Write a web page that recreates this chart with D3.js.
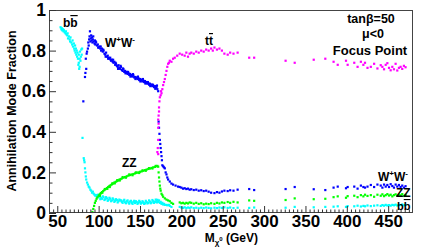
<!DOCTYPE html>
<html><head><meta charset="utf-8">
<script src="https://cdn.jsdelivr.net/npm/d3@7"></script>
<style>
body{margin:0;background:#fff}
svg{display:block}
text{font-family:"Liberation Sans",Arial,Helvetica,sans-serif;font-weight:bold;fill:#000}
</style>
</head><body>
<svg id="chart" width="423" height="249"></svg>
<script>
// ---- data: [neutralino mass (GeV), annihilation fraction] ----
const bbPoints = [
 [54,0.915],[55,0.905],[55.5,0.91],[56,0.9],[57,0.905],[57.5,0.895],[58,0.9],[59,0.89],[60,0.885],[60.5,0.895],
 [61,0.88],[62,0.875],[62.5,0.885],[63,0.86],[64,0.87],[65,0.855],[65.5,0.845],[66,0.865],[67,0.84],[68,0.83],
 [68.5,0.85],[69,0.82],[70,0.835],[70.5,0.81],[71,0.8],[71.5,0.825],[72,0.79],[72.5,0.81],[73,0.78],[73.5,0.8],
 [74,0.77],[74.5,0.79],[75,0.76],[75.5,0.73],[76,0.78],[76,0.74],[76.5,0.71],[77,0.76],[77,0.72],[77.5,0.795],
 [78,0.75],[78.5,0.77],[79,0.805],[79.5,0.78],[80,0.81],
 [80.5,0.37],[82,0.27],[82.5,0.26],[83,0.25],[83.5,0.22],[84,0.2],[84.5,0.18],[85,0.165],[86,0.15],[87,0.14],
 [88,0.13],[89,0.125],[90,0.115],[91,0.11],[92,0.1],[93,0.105],[94,0.095],[95,0.09],[96,0.085],[97,0.088],
 [98,0.08],[100,0.078],[101,0.083],[103,0.075],[104,0.07],[106,0.077],[108,0.068],[110,0.072],[112,0.065],[114,0.07],
 [116,0.062],[118,0.066],[120,0.06],[122,0.064],[124,0.058],[126,0.062],[128,0.055],[130,0.06],[132,0.053],[134,0.058],
 [136,0.052],[138,0.056],[140,0.05],[142,0.055],[144,0.049],[146,0.054],[148,0.05],[150,0.055],[152,0.05],[154,0.053],
 [156,0.048],[158,0.054],[160,0.05],[162,0.056],[164,0.052],[166,0.058],[168,0.055],[170,0.06],[171,0.065],[172,0.055],
 [174,0.05],[176,0.045],[178,0.042],[180,0.04],[183,0.038],[186,0.035],[188,0.03],
 [99,0.09],[102,0.068],[105,0.082],[107,0.064],[109,0.078],[111,0.06],[113,0.075],[115,0.058],[117,0.072],[119,0.055],
 [121,0.068],[123,0.052],[125,0.066],[127,0.062],[129,0.05],[131,0.065],[133,0.048],[135,0.062],[137,0.046],[139,0.06],
 [141,0.045],[143,0.06],[145,0.058],[147,0.045],[149,0.06],[151,0.046],[153,0.058],[155,0.045],[157,0.06],[159,0.047],
 [161,0.062],[163,0.048],[165,0.064],[167,0.05],[169,0.066],[170.5,0.052],[173,0.062],[175,0.055],[177,0.05],[179,0.045],
 [182,0.04],[185,0.04],
 [198,0.03],[200,0.027],[202,0.025],[204,0.028],[206,0.024],[208,0.027],[210,0.025],[212,0.028],[215,0.024],[218,0.026],
 [221,0.023],[224,0.026],[227,0.024],[230,0.027],[233,0.025],[236,0.023],[240,0.026],[243,0.024],[246,0.027],[249,0.025],
 [252,0.028],[256,0.025],[259,0.027],[263,0.024],[268,0.026],[282,0.025],[288,0.027],[326,0.026],[337,0.03],[360,0.028],
 [374,0.03],[384,0.031],[389,0.033],[399,0.03],[401,0.034],[409,0.033],[413,0.036],[417,0.032],[420,0.035],[422,0.033],
 [425,0.037],[429,0.034],[433,0.036],[437,0.038],[441,0.035],[443,0.039],[445,0.036],[447,0.04],[449,0.037],[451,0.039],
 [453,0.036],[455,0.04],[457,0.038],[459,0.041],[461,0.037],[463,0.04],[465,0.039],[467,0.042],[469,0.038],[471,0.04]
];
const wwPoints = [
 [81.5,0.55],[83.5,0.67],[84,0.69],[85,0.71],[84.5,0.76],[85.5,0.785],[86,0.795],[87,0.81],[87.5,0.84],[88,0.825],
 [88.5,0.855],[89,0.87],[89.5,0.895],[90,0.845],[90.5,0.86],[91,0.875],[91.5,0.85],[92,0.865],[92.5,0.84],[93,0.855],
 [93.5,0.87],[94,0.845],[95,0.835],[95.5,0.85],[96,0.83],[97,0.84],[98,0.825],[99,0.83],[100,0.815],[101,0.82],
 [102,0.81],[103,0.8],[104,0.81],[105,0.795],[106,0.8],[107,0.785],[108,0.78],[109,0.79],[110,0.77],[111,0.775],
 [112,0.765],[113,0.76],[114,0.765],[115,0.75],[116,0.755],[117,0.745],[118,0.74],[119,0.745],[120,0.73],[121,0.735],
 [122,0.725],[123,0.72],[124,0.728],[125,0.715],[126,0.71],[127,0.72],[128,0.705],[129,0.7],[130,0.708],[131,0.695],
 [132,0.7],[133,0.69],[134,0.695],[135,0.685],[136,0.69],[137,0.68],[138,0.685],[139,0.675],[140,0.68],[141,0.672],
 [142,0.678],[143,0.668],[144,0.67],[145,0.665],[146,0.668],[147,0.66],[148,0.665],[149,0.655],[150,0.66],[151,0.652],
 [152,0.657],[153,0.648],[154,0.652],[155,0.645],[156,0.65],[157,0.64],[158,0.645],[159,0.637],[160,0.64],[161,0.632],
 [162,0.637],[163,0.628],[164,0.633],[165,0.625],[166,0.628],[167,0.62],[168,0.625],[169,0.615],[170,0.62],[171,0.61],
 [96.5,0.845],[99.5,0.815],[102.5,0.82],[105.5,0.805],[108.5,0.77],[111.5,0.76],[114.5,0.755],[117.5,0.755],[120.5,0.74],[123.5,0.71],
 [126.5,0.725],[129.5,0.712],[132.5,0.688],[135.5,0.695],[138.5,0.672],[141.5,0.684],[144.5,0.66],[147.5,0.672],[150.5,0.648],[153.5,0.66],
 [156.5,0.638],[159.5,0.645],[162.5,0.625],[165.5,0.632],[168.5,0.612],[170.5,0.628],
 [172,0.6],[172.5,0.45],[173,0.42],[173.5,0.39],[174,0.36],[174.5,0.34],[175,0.32],[175.5,0.3],[176,0.28],[176.5,0.26],
 [177,0.235],[178,0.23],[179,0.225],[180,0.22],[181,0.2],[182,0.19],[183,0.175],[184,0.165],[186,0.155],[188,0.145],
 [190,0.14],[193,0.135],[196,0.13],[198,0.128],[200,0.125],[202,0.12],[204,0.122],[206,0.118],[208,0.12],[210,0.115],
 [212,0.117],[215,0.113],[218,0.115],[221,0.11],[224,0.112],[227,0.108],[230,0.11],[233,0.105],[236,0.1],[240,0.098],
 [243,0.103],[246,0.1],[249,0.106],[252,0.11],[256,0.108],[259,0.112],[263,0.11],[268,0.115],[282,0.118],[288,0.113],
 [326,0.118],[337,0.128],[360,0.117],[374,0.113],[384,0.125],[389,0.13],[399,0.122],[401,0.128],[409,0.13],[413,0.12],
 [417,0.135],[420,0.128],[422,0.125],[425,0.13],[429,0.138],[433,0.128],[437,0.14],[441,0.135],[443,0.125],[445,0.14],
 [447,0.13],[449,0.138],[451,0.128],[453,0.142],[455,0.133],[457,0.125],[459,0.14],[461,0.13],[463,0.138],[465,0.128],
 [467,0.135],[469,0.125],[471,0.132]
];
const zzPoints = [
 [92.5,0.005],[93.5,0.02],[94.5,0.035],[95.5,0.05],[96.5,0.06],[97.5,0.07],[98.5,0.077],[100,0.085],[101,0.09],[102,0.095],
 [103,0.098],[104,0.103],[105.5,0.108],[107,0.113],[108.5,0.118],[110,0.123],[111.5,0.128],[113,0.133],[114.5,0.137],[116,0.141],
 [117.5,0.145],[119,0.15],[120.5,0.153],[122,0.157],[123.5,0.16],[125,0.164],[126.5,0.167],[128,0.17],[130,0.174],[132,0.177],
 [134,0.181],[136,0.184],[138,0.187],[140,0.19],[142,0.192],[144,0.195],[146,0.198],[148,0.2],[150,0.203],[152,0.205],
 [154,0.208],[156,0.211],[158,0.214],[160,0.217],[162,0.219],[164,0.222],[166,0.225],[168,0.227],[170,0.23],[171,0.232],
 [101.5,0.085],[104.5,0.1],[107.5,0.118],[110.5,0.119],[113.5,0.128],[116.5,0.146],[119.5,0.146],[122.5,0.162],[125.5,0.16],[129,0.177],
 [133,0.174],[137,0.19],[141,0.186],[145,0.2],[149,0.197],[153,0.21],[157,0.208],[161,0.221],[165,0.219],[169,0.232],
 [172,0.228],[172.5,0.2],[173,0.175],[173.5,0.155],[174,0.135],[174.5,0.12],[175,0.11],[176,0.095],[177,0.088],[178,0.08],
 [180,0.072],[182,0.066],[184,0.062],[186,0.058],[188,0.05],[190,0.045],
 [198,0.052],[200,0.048],[202,0.05],[204,0.046],[206,0.05],[208,0.047],[210,0.052],[212,0.05],[215,0.046],[218,0.05],
 [221,0.045],[224,0.048],[227,0.043],[230,0.046],[233,0.044],[236,0.048],[240,0.045],[243,0.05],[246,0.047],[249,0.052],
 [252,0.05],[256,0.054],[259,0.05],[263,0.055],[268,0.052],[282,0.062],[288,0.06],[326,0.064],[337,0.072],[360,0.068],
 [374,0.07],[384,0.078],[389,0.082],[399,0.075],[401,0.083],[409,0.085],[413,0.078],[417,0.088],[420,0.082],[422,0.09],
 [425,0.084],[429,0.088],[433,0.08],[437,0.09],[441,0.085],[443,0.092],[445,0.083],[447,0.088],[449,0.093],[451,0.086],
 [453,0.09],[455,0.082],[457,0.088],[459,0.092],[461,0.085],[463,0.09],[465,0.087],[467,0.093],[469,0.084],[471,0.089]
];
const ttPoints = [
 [171,0.30],[171.5,0.32],[172,0.29],[172,0.36],[172,0.42],[172.5,0.44],[172,0.46],[172.5,0.48],[173,0.5],[173,0.52],
 [173.5,0.55],[174,0.57],[175,0.58],[175.5,0.6],[176,0.59],[177,0.61],[178,0.63],[179,0.645],[180,0.66],[181,0.68],
 [182,0.7],[183,0.72],[184,0.735],[185,0.74],[186,0.75],[188,0.745],[190,0.76],[192,0.765],[195,0.775],[198,0.785],
 [201,0.78],[204,0.775],[206,0.79],[208,0.77],[210,0.785],[212,0.79],[215,0.785],[218,0.795],[221,0.79],[224,0.8],
 [227,0.795],[230,0.805],[233,0.8],[236,0.81],[238,0.8],[240,0.815],[243,0.805],[246,0.81],[249,0.8],[252,0.785],
 [256,0.78],[259,0.79],[263,0.785],[268,0.79],[282,0.765],[288,0.765],[326,0.75],[337,0.74],[360,0.755],[374,0.76],
 [384,0.745],[389,0.73],[399,0.75],[401,0.73],[409,0.74],[413,0.72],[417,0.745],[420,0.73],[422,0.74],[425,0.715],
 [429,0.72],[433,0.735],[437,0.712],[441,0.728],[443,0.72],[445,0.708],[447,0.73],[449,0.738],[451,0.715],[453,0.703],
 [455,0.72],[457,0.708],[459,0.735],[461,0.702],[463,0.715],[465,0.72],[467,0.71],[469,0.725],[471,0.718]
];
const seriesColors = {bb:"#00ffff", ww:"#0000ff", zz:"#00ff00", tt:"#ff00ff"};
const xMajorTicks = [50,100,150,200,250,300,350,400,450];
const yMajorTicks = [0,0.2,0.4,0.6,0.8,1];
const yTickLabels = ["0","0.2","0.4","0.6","0.8","1"];
const xDomain = [40,480];
const yDomain = [0,1];

// ---- drawing ----
const svg = d3.select("#chart");
const L=49, R=413, T=10, B=213;
const x = d3.scaleLinear().domain(xDomain).range([L,R]);
const y = d3.scaleLinear().domain(yDomain).range([B,T]);

// points
const groups = [[bbPoints,"bb"],[zzPoints,"zz"],[wwPoints,"ww"],[ttPoints,"tt"]];
groups.forEach(([pts,key])=>{
  svg.append("g").selectAll("rect").data(pts).join("rect")
    .attr("x",d=>x(d[0])-1.1).attr("y",d=>y(d[1])-1.1)
    .attr("width",2.2).attr("height",2.2)
    .attr("fill",seriesColors[key]);
});

// frame
svg.append("rect").attr("x",L+0.5).attr("y",T+0.5).attr("width",R-L-1).attr("height",B-T-1)
  .attr("fill","none").attr("stroke","#444").attr("stroke-width",1);

// x axis
const xMinor = d3.range(45,480,5).filter(v=>v%50!==0);
const gxMinor = svg.append("g").attr("transform",`translate(0,${B})`)
  .call(d3.axisBottom(x).tickValues(xMinor).tickSize(-3.5).tickFormat(""));
const gx = svg.append("g").attr("transform",`translate(0,${B})`)
  .call(d3.axisBottom(x).tickValues(xMajorTicks).tickSize(-7).tickPadding(2).tickFormat(d3.format("d")));
[gxMinor,gx].forEach(g=>{g.select(".domain").remove();g.selectAll("line").attr("stroke","#333");});
gx.selectAll("text").attr("font-size",17).attr("font-family",'"Liberation Sans",Arial,sans-serif').attr("font-weight","bold").attr("fill","#000");

// y axis
const yMinor = d3.range(0.05,1,0.05).filter(v=>Math.abs(v*5-Math.round(v*5))>1e-6);
const gyMinor = svg.append("g").attr("transform",`translate(${L},0)`)
  .call(d3.axisLeft(y).tickValues(yMinor).tickSize(-3.5).tickFormat(""));
const gy = svg.append("g").attr("transform",`translate(${L},0)`)
  .call(d3.axisLeft(y).tickValues(yMajorTicks).tickSize(-7).tickPadding(3).tickFormat((d,i)=>yTickLabels[i]));
[gyMinor,gy].forEach(g=>{g.select(".domain").remove();g.selectAll("line").attr("stroke","#333");});
gy.selectAll("text").attr("font-size",17.5).attr("font-family",'"Liberation Sans",Arial,sans-serif').attr("font-weight","bold").attr("fill","#000");

// axis titles
svg.append("text").attr("transform","translate(16,111) rotate(-90)").attr("text-anchor","middle")
  .attr("font-size",12.5).text("Annihilation Mode Fraction");
const xt = svg.append("text").attr("x",258).attr("y",242).attr("text-anchor","end").attr("font-size",12);
xt.append("tspan").text("M");
xt.append("tspan").attr("font-size",8).attr("dy",3).text("χ");
xt.append("tspan").attr("font-size",6).attr("dy",-4).text("0");
xt.append("tspan").attr("dy",1).text(" (GeV)");

// in-plot labels
function bbbar(xp,yp,fs){
  const t = svg.append("text").attr("x",xp).attr("y",yp).attr("font-size",fs);
  t.append("tspan").text("b");
  t.append("tspan").style("text-decoration","overline").text("b");
}
function wwlab(xp,yp){
  const t = svg.append("text").attr("x",xp).attr("y",yp).attr("font-size",12);
  t.append("tspan").text("W");
  t.append("tspan").attr("font-size",8).attr("dy",-5).text("+");
  t.append("tspan").attr("dy",5).text("W");
  t.append("tspan").attr("font-size",8).attr("dy",-5).text("-");
}
bbbar(63,27,12);
wwlab(105,47);
const tt = svg.append("text").attr("x",205).attr("y",45).attr("font-size",12);
tt.append("tspan").text("t");
tt.append("tspan").style("text-decoration","overline").text("t");
svg.append("text").attr("x",122).attr("y",167).attr("font-size",12).text("ZZ");
wwlab(378,181);
svg.append("text").attr("x",396).attr("y",197).attr("font-size",12).text("ZZ");
bbbar(397,210,11);

svg.append("text").attr("x",371).attr("y",23).attr("text-anchor","middle").attr("font-size",12.5).text("tanβ=50");
svg.append("text").attr("x",373).attr("y",38).attr("text-anchor","middle").attr("font-size",12.5).text("μ<0");
svg.append("text").attr("x",370).attr("y",55).attr("text-anchor","middle").attr("font-size",13).text("Focus Point");
</script>
</body></html>
